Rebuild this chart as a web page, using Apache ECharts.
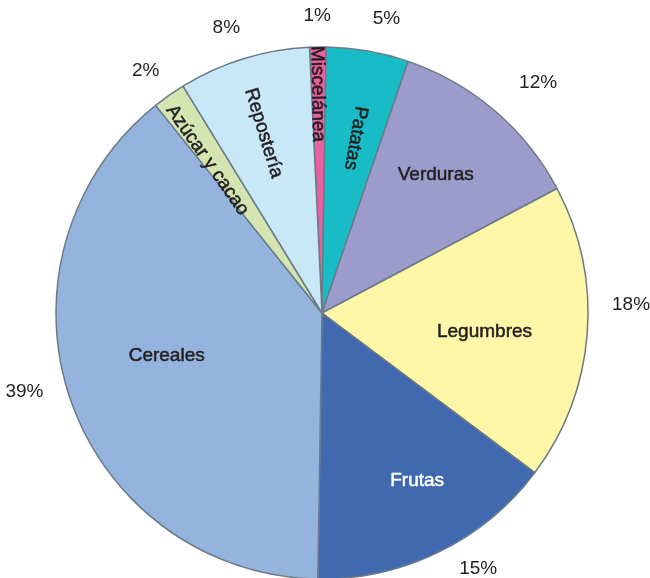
<!DOCTYPE html>
<html>
<head>
<meta charset="utf-8">
<script src="https://cdn.jsdelivr.net/npm/echarts@6/dist/echarts.min.js"></script>
<style>
  html, body { margin: 0; padding: 0; background: #fff; }
  #chart { width: 650px; height: 578px; }
</style>
</head>
<body>
<div id="chart"></div>
<script>
// slices, clockwise from 12 o'clock
var categories = ['Miscelánea', 'Patatas', 'Verduras', 'Legumbres', 'Frutas', 'Cereales', 'Azúcar y cacao', 'Repostería'];
var percents = [1, 5, 12, 18, 15, 39, 2, 8];
var colors = ['#e8609f', '#17bcc6', '#9b9ccb', '#fff6a7', '#4069b0', '#94b3dd', '#d4e5b1', '#c8e8f8'];

// layout
var CX = 322, CY = 313, R = 266, START = 92.7;
var radialNames = ['Miscelánea', 'Patatas', 'Azúcar y cacao', 'Repostería'];
var whiteNames = ['Frutas'];
var nameRadius = { 'Miscelánea': 213, 'Legumbres': 160, 'Cereales': 158 };
var defaultNameRadius = 186;
var pctRadius = 302;
// small hand nudges (px) so labels sit where the original puts them
var nameNudge = {
  'Miscelánea': [-3, 1], 'Patatas': [11, -3], 'Verduras': [-9, 5], 'Legumbres': [0, 6],
  'Frutas': [12, -2], 'Cereales': [-3, -9], 'Azúcar y cacao': [-2, 6], 'Repostería': [0, 3]
};
var pctNudge = {
  'Miscelánea': [0, 8], 'Patatas': [12, 6], 'Verduras': [18, 2], 'Legumbres': [5, -32],
  'Frutas': [22, -18], 'Cereales': [-9, -20], 'Azúcar y cacao': [-1, 7], 'Repostería': [-6, 6]
};
var FONT = '"Liberation Sans", Arial, sans-serif';

var total = percents.reduce(function (a, b) { return a + b; }, 0);

// angle for radial text, reading from rim toward centre
function rotationFor(i) {
  var before = 0;
  for (var k = 0; k < i; k++) before += percents[k];
  var mid = START - (before + percents[i] / 2) / total * 360;
  var rot = mid - 180;
  while (rot < -180) rot += 360;
  return rot;
}

var mainData = categories.map(function (c, i) {
  return { name: c, value: percents[i], itemStyle: { color: colors[i] } };
});

// transparent pies used only to place text at a given radius
function labelLayer(r, pick, makeLabel, nudge) {
  return {
    type: 'pie',
    center: [CX, CY],
    radius: [0, r * 2],
    startAngle: START,
    clockwise: true,
    silent: true,
    animation: false,
    emphasis: { disabled: true },
    labelLine: { show: false },
    itemStyle: { color: 'rgba(0,0,0,0)', borderWidth: 0 },
    labelLayout: function (p) {
      var n = nudge[categories[p.dataIndex]] || [0, 0];
      return { dx: n[0], dy: n[1] };
    },
    data: categories.map(function (c, i) {
      var show = pick(c, i);
      var lab = show ? makeLabel(c, i) : { show: false };
      return { name: c, value: percents[i], label: lab };
    })
  };
}

function nameLabel(c, i) {
  var col = whiteNames.indexOf(c) >= 0 ? '#ffffff' : '#231f20';
  var lab = {
    show: true,
    position: 'inside',
    formatter: c,
    color: col,
    textBorderColor: col,
    textBorderWidth: 0.5,
    fontFamily: FONT,
    fontSize: 19
  };
  if (radialNames.indexOf(c) >= 0) lab.rotate = rotationFor(i);
  return lab;
}

var series = [{
  type: 'pie',
  center: [CX, CY],
  radius: [0, R],
  startAngle: START,
  clockwise: true,
  animation: false,
  silent: true,
  label: { show: false },
  labelLine: { show: false },
  itemStyle: { borderColor: '#6b7c88', borderWidth: 1.5 },
  data: mainData
}];

var radii = [defaultNameRadius];
Object.keys(nameRadius).forEach(function (k) {
  if (radii.indexOf(nameRadius[k]) < 0) radii.push(nameRadius[k]);
});
radii.forEach(function (r) {
  series.push(labelLayer(r, function (c) {
    return (nameRadius[c] || defaultNameRadius) === r;
  }, nameLabel, nameNudge));
});

series.push(labelLayer(pctRadius, function () { return true; }, function (c, i) {
  return {
    show: true,
    position: 'inside',
    formatter: percents[i] + '%',
    color: '#231f20',
    fontFamily: FONT,
    fontSize: 19
  };
}, pctNudge));

var chart = echarts.init(document.getElementById('chart'));
chart.setOption({
  backgroundColor: '#ffffff',
  animation: false,
  series: series
});
</script>
</body>
</html>
